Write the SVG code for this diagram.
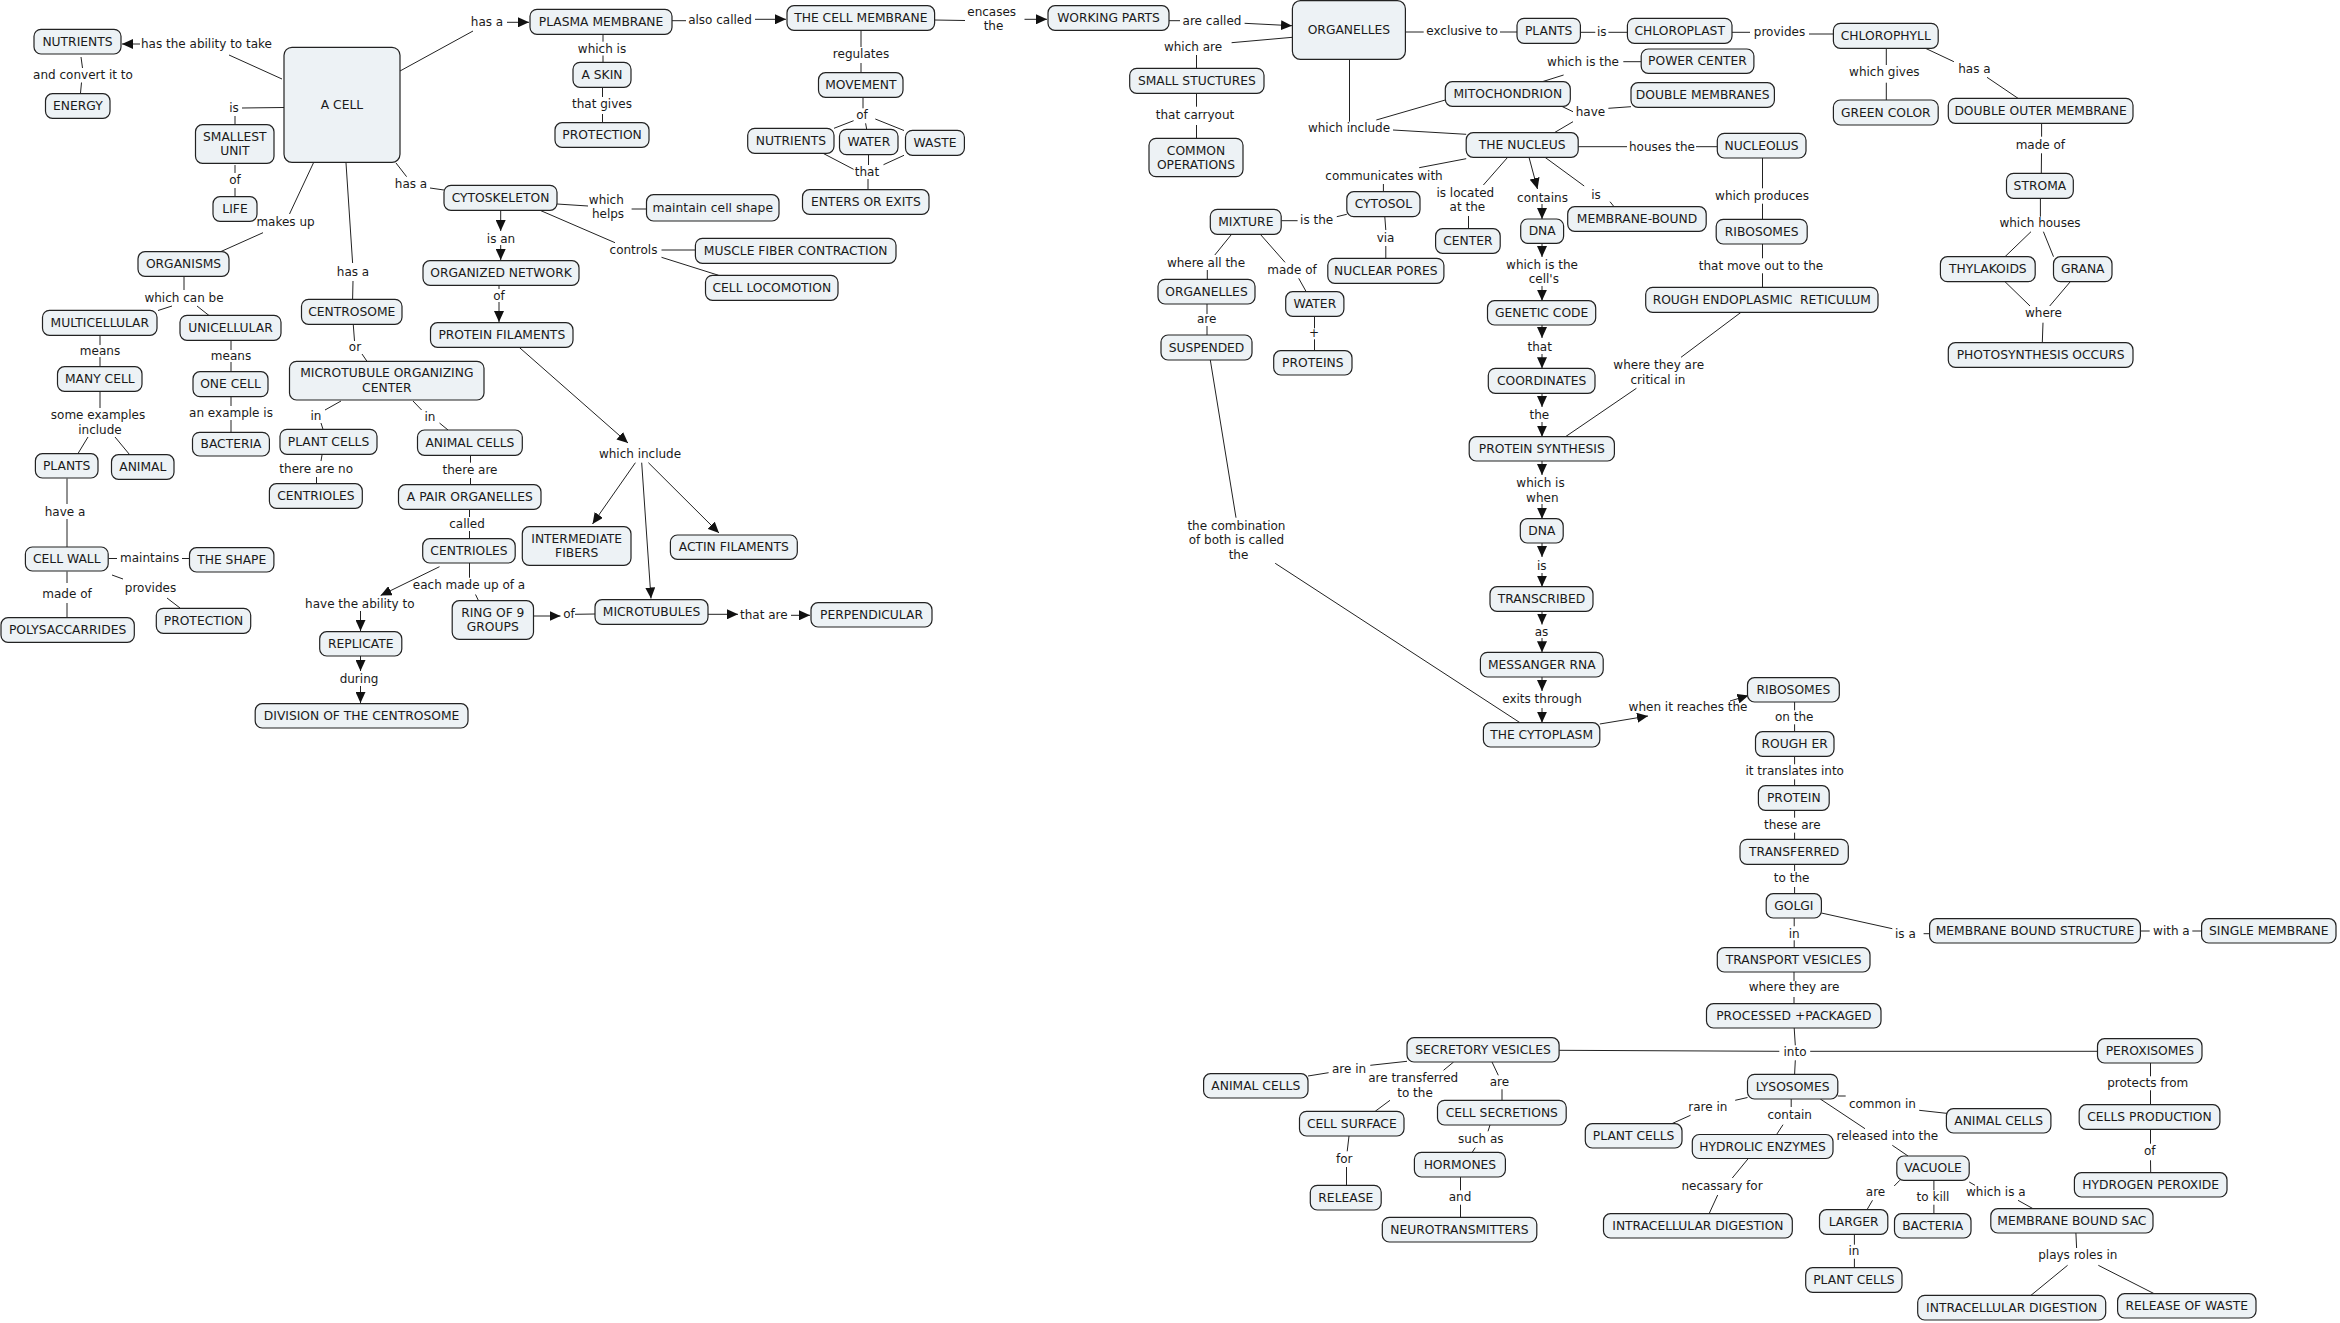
<svg xmlns="http://www.w3.org/2000/svg" width="2340" height="1323" viewBox="0 0 2340 1323">
<style>
.n rect{fill:#edf2f5;stroke:#222;stroke-width:1.2}
.n text,.l text{font-family:"DejaVu Sans",Verdana,sans-serif;text-anchor:middle;dominant-baseline:central;fill:#1a1a1a}
.n text{font-size:12.3px}
.l text{font-size:12px}
.c path{fill:none;stroke:#222;stroke-width:1}
.c .a{marker-end:url(#ah)}
</style>
<defs>
<marker id="ah" markerUnits="userSpaceOnUse" markerWidth="11" markerHeight="10" refX="11" refY="5" orient="auto">
<path d="M0,0 L11,5 L0,10 z" fill="#111"/>
</marker>
</defs>
<rect width="2340" height="1323" fill="#fff"/>
<g id="connectors" class="c">
<path d="M282,79 L229,55"/><path class="a" d="M140,44 L122,44"/>
<path d="M81,57 L82.5,68 M81.5,82.5 L80.5,93"/>
<path d="M284,107.5 L242,108 M235,116 L235,124.5"/>
<path d="M235,165 L235,173 M235,188 L235,196.5"/>
<path d="M313.4,163 L289.5,214 M263,232.7 L221,251.5"/>
<path d="M184,277 L184,290 M172,306 L158,310.5 M197,306 L209,315.5"/>
<path d="M100,336 L100,345 M100,357 L100,366.5"/>
<path d="M231,341 L231,350 M231,362 L231,371.5"/>
<path d="M100,392 L100,408 M88,437 L78,453.5 M115,437 L129.5,454.5"/>
<path d="M231,397 L231,406 M231,420 L231,432"/>
<path d="M67,478.5 L67,504 M67,519 L67,547"/>
<path d="M108.5,558.5 L117,558.5 M182,558.5 L189.5,558.5"/>
<path d="M67,571.5 L67,583 M67,603 L67,617.5"/>
<path d="M112,575 L123,579 M167,598 L180,608"/>
<path d="M346,163 L352.6,263 M353,281 L352.6,299.3"/>
<path d="M353.3,325 L354.5,341 M362,354 L367,361.3"/>
<path d="M341,401 L325,410 M321,423 L323,429.3"/>
<path d="M413,401 L421.6,410 M439.5,423 L448,430"/>
<path d="M322,455 L321,461 M316.5,477 L316.5,483.7"/>
<path d="M470.5,455.5 L470.5,462.7 M470.5,478 L470.5,484.7"/>
<path d="M469.5,509.5 L469.5,517 M469.5,531 L469.5,538.7"/>
<path d="M469.5,563 L469.5,577.7 M475.5,594.5 L478.5,600.7"/>
<path class="a" d="M439.5,566.7 L380.6,595.5"/>
<path class="a" d="M360.5,611 L360.5,631"/>
<path class="a" d="M360.5,656 L360.5,671"/>
<path class="a" d="M360.5,686 L360.5,703"/>
<path class="a" d="M533.5,616 L560.5,616"/><path d="M575,614.3 L595,614"/>
<path d="M396,163 L406.6,176.7 M430,188 L444,190"/>
<path class="a" d="M500.7,210.3 L500.7,231"/><path class="a" d="M500.7,245 L500.7,260"/>
<path d="M499,285.5 L499,289"/><path class="a" d="M499,302 L499,322"/>
<path class="a" d="M519.4,347.5 L628,443"/>
<path class="a" d="M635.4,462.7 L592.5,524"/>
<path class="a" d="M641.7,462.7 L651,598.5"/>
<path class="a" d="M648.4,462.7 L719,533"/>
<path class="a" d="M708,614.3 L738,614.3"/><path class="a" d="M791,615.3 L810,615.3"/>
<path d="M400,71 L473,31"/><path class="a" d="M507,22.3 L529,22.3"/>
<path d="M672,20.7 L686,20.7"/><path class="a" d="M755,19.3 L786,19.3"/>
<path d="M934.6,20 L965,20.5"/><path class="a" d="M1024.5,19.3 L1047,19.3"/>
<path d="M603,34.3 L603,41.7 M603,55.5 L603,62.3"/>
<path d="M602.5,87.3 L602.5,97 M602.5,114 L602.5,122.7"/>
<path d="M861,30.3 L861,47 M861,63 L861,72.7"/>
<path d="M863,97.3 L863,108.3 M853.6,120.7 L834,128.3 M865.6,123.3 L866.7,129.3 M875.3,119 L904,130.5"/>
<path d="M823,153.3 L853.6,169.3 M868.5,154.7 L868.5,165 M904,155.3 L883.5,164.7 M868,179 L868,189.7"/>
<path d="M557,204 L588,206 M631.6,209 L646.5,209"/>
<path d="M540,210.3 L615,242.7 M661.5,250 L695.4,250 M661.5,257.3 L718.6,275.3"/>
<path d="M1169,20.7 L1180,20.7"/><path class="a" d="M1244.6,23.3 L1292,25.7"/>
<path d="M1292.4,37.3 L1231.6,42.7 M1196.5,55 L1196.5,68.3"/>
<path d="M1196.5,93.3 L1196.5,106.7 M1196.5,125 L1196.5,138.3"/>
<path d="M1405.4,32 L1423.7,32 M1500,32 L1517,32"/>
<path d="M1580.4,32.3 L1595.3,32.3 M1608.4,32.3 L1627.4,32.3"/>
<path d="M1732,32.3 L1750,32.3 M1809,34 L1833.4,34"/>
<path d="M1886.3,48.3 L1886.3,65 M1886.3,82.7 L1886.3,100"/>
<path d="M1925.9,48.5 L1953.9,61.7 M1987,77.3 L2018,98.3"/>
<path d="M2041.6,123.3 L2041.6,136.7 M2041.5,153.3 L2041.3,173.3"/>
<path d="M2040.4,198.3 L2040.4,216.7 M2031,231.7 L2005,256.7 M2043.4,231.7 L2053.5,256.7"/>
<path d="M2005,281.7 L2030,306 M2070.3,281.7 L2049.7,306 M2043,322.7 L2042.3,342.7"/>
<path d="M1349.5,59.3 L1349.5,121.7 M1393,130 L1466.2,134.3 M1376.3,120 L1445.3,100"/>
<path d="M1542.3,81.7 L1563.6,75 M1623.3,61.7 L1641.2,61.7"/>
<path d="M1561.7,106.3 L1573,111.7 M1554.3,132.7 L1573,121.7 M1608.4,108.3 L1631,106.7"/>
<path d="M1578.2,146.7 L1627,146.7 M1696,146.7 L1717.3,146.7"/>
<path d="M1762.5,158 L1762.5,188.3 M1762.5,203.7 L1762.5,219.3"/>
<path d="M1762.5,244 L1762.5,258.3 M1762.5,273.3 L1762.5,287.3"/>
<path d="M1741,312.3 L1681,357.3 M1636.4,388.3 L1565.5,436.7"/>
<path d="M1466.2,158.7 L1419.2,167.7 M1383.4,184 L1383.4,191.7"/>
<path d="M1346.8,214.3 L1336.8,216.7 M1297.6,220.7 L1281.2,220.7"/>
<path d="M1384.8,216.7 L1385.8,230 M1385.8,246 L1385.8,258.3"/>
<path d="M1507.7,157.3 L1483.4,185 M1468.5,216 L1468.5,228.7"/>
<path class="a" d="M1529,157.3 L1537.5,189"/><path class="a" d="M1542,204 L1542,219"/>
<path d="M1545,157.3 L1584.2,186 M1610,201.7 L1614,206.7"/>
<path class="a" d="M1542,243.3 L1542,257"/><path class="a" d="M1542,286 L1542,300.7"/>
<path class="a" d="M1542,325 L1542,338"/><path class="a" d="M1542,354 L1542,368.3"/>
<path class="a" d="M1542,393.3 L1542,407"/><path class="a" d="M1542,422 L1542,436.7"/>
<path class="a" d="M1542,461 L1542,475"/><path class="a" d="M1542,504 L1542,518.7"/>
<path class="a" d="M1542,543 L1542,557"/><path class="a" d="M1542,573 L1542,586.7"/>
<path class="a" d="M1542,611.3 L1542,624.5"/><path class="a" d="M1542,638 L1542,652.3"/>
<path class="a" d="M1542,677 L1542,691"/><path class="a" d="M1542,708 L1542,722.7"/>
<path d="M1231.6,234.3 L1214.8,255 M1207.3,270 L1207.3,279.3"/>
<path d="M1260.3,234.3 L1285,262.3 M1298.7,278.3 L1306.2,291.7"/>
<path d="M1314.5,316.3 L1314.5,328.3 M1314.5,339.3 L1314.5,350.7"/>
<path d="M1207,304 L1207,314 M1207,326 L1207,335"/>
<path d="M1210.3,360 L1236,517.7 M1275.2,563.3 L1520,722.7"/>
<path class="a" d="M1599.8,724 L1648,716"/><path class="a" d="M1730,701 L1748.5,695.5"/>
<path d="M1794.6,702 L1794.6,710.3 M1794.6,724.3 L1794.6,731.7"/>
<path d="M1794.6,756.3 L1794.6,764.3 M1794.6,779.3 L1794.6,785.7"/>
<path d="M1794.6,810.3 L1794.6,817.7 M1794.6,832.7 L1794.6,839.3"/>
<path d="M1794.6,864.3 L1794.6,871 M1794.6,887 L1794.6,893.7"/>
<path d="M1821.4,913 L1892.3,928.7 M1923.6,933.7 L1929.6,933.7"/>
<path d="M2140.4,931 L2149.7,931 M2192.3,931 L2201.6,931"/>
<path d="M1794.2,918 L1794.2,926.3 M1794.2,940.3 L1794.2,947.7"/>
<path d="M1794,972 L1794,981 M1794,997 L1794,1003.7"/>
<path d="M1794.2,1028 L1795.3,1045.3 M1795.3,1060.3 L1794.6,1074.3 M1779.3,1051.3 L1559.1,1050.3 M1810.2,1051.3 L2097.5,1051.3"/>
<path d="M1407,1061.3 L1370.3,1065.3 M1328.6,1072.7 L1308,1076"/>
<path d="M1453.6,1062 L1443.5,1070.3 M1390,1100.3 L1375.2,1111.3"/>
<path d="M1492,1062 L1498.3,1075.3 M1502,1089.3 L1502,1100.3"/>
<path d="M1490,1125 L1488,1131.3 M1475.2,1147.7 L1472.2,1152.3"/>
<path d="M1460.5,1177 L1460.5,1190.3 M1460.5,1204.7 L1460.5,1217.3"/>
<path d="M1349,1136 L1347.2,1151.3 M1346.5,1167 L1346.5,1185.3"/>
<path d="M1747.5,1097.5 L1735.2,1100.3 M1690.5,1115.3 L1671.8,1123.7"/>
<path d="M1791.2,1099 L1791.2,1107 M1783,1124.7 L1776.6,1134.5"/>
<path d="M1748.3,1158.5 L1732.3,1178 M1717.7,1195 L1709.1,1213.7"/>
<path d="M1837.8,1096 L1845.7,1096 M1919.2,1110.3 L1946.4,1113.3"/>
<path d="M1820.3,1099 L1865,1128.7 M1892.3,1145.3 L1908,1156"/>
<path d="M1899.8,1180.3 L1894.2,1186 M1872.5,1200.3 L1867,1209.7"/>
<path d="M1933.9,1180.3 L1933.9,1190.3 M1933.9,1204.7 L1933.9,1213.7"/>
<path d="M1969.2,1182 L1975,1185.3 M2018,1200.3 L2033,1208.7"/>
<path d="M1854.4,1234.3 L1854.4,1244.7 M1854.4,1258.7 L1854.4,1267.7"/>
<path d="M2075.9,1233 L2076.6,1248 M2067.6,1265.3 L2031,1295.3 M2098.3,1265.3 L2154.2,1293.7"/>
<path d="M2150.5,1063 L2150.5,1076.3 M2150.5,1090.3 L2150.5,1104.7"/>
<path d="M2150.5,1129.3 L2150.5,1143.7 M2150.5,1160.3 L2150.7,1172.7"/>
</g>
<g id="link-labels" class="l">
<text x="206.5" y="44.3">has the ability to take</text>
<text x="83" y="75">and convert it to</text>
<text x="234" y="108.3">is</text>
<text x="235" y="180">of</text>
<text x="285.5" y="222">makes up</text>
<text x="184" y="297.7">which can be</text>
<text x="100" y="350.7">means</text>
<text x="231" y="355.7">means</text>
<text x="98" y="415">some examples</text><text x="100" y="429.7">include</text>
<text x="231" y="413.3">an example is</text>
<text x="65" y="512">have a</text>
<text x="149.7" y="557.7">maintains</text>
<text x="67" y="594">made of</text>
<text x="150.5" y="587.7">provides</text>
<text x="353" y="272">has a</text>
<text x="355" y="346.7">or</text>
<text x="316" y="415.7">in</text>
<text x="430" y="417.3">in</text>
<text x="316.2" y="469">there are no</text>
<text x="470" y="470">there are</text>
<text x="467" y="523.7">called</text>
<text x="469" y="585">each made up of a</text>
<text x="359.8" y="604">have the ability to</text>
<text x="359" y="679">during</text>
<text x="569" y="614.3">of</text>
<text x="411" y="184">has a</text>
<text x="501" y="238.7">is an</text>
<text x="499" y="295.7">of</text>
<text x="640" y="453.7">which include</text>
<text x="763.8" y="615">that are</text>
<text x="487" y="21.7">has a</text>
<text x="720" y="20">also called</text>
<text x="991.7" y="11.7">encases</text><text x="993.5" y="26">the</text>
<text x="602" y="48.5">which is</text>
<text x="602" y="104">that gives</text>
<text x="861" y="54">regulates</text>
<text x="862" y="115">of</text>
<text x="867" y="171.7">that</text>
<text x="606.3" y="200">which</text><text x="608" y="214.3">helps</text>
<text x="633.5" y="250">controls</text>
<text x="1212" y="20.7">are called</text>
<text x="1193" y="46.7">which are</text>
<text x="1195" y="115">that carryout</text>
<text x="1462" y="30.7">exclusive to</text>
<text x="1601.7" y="32.3">is</text>
<text x="1779.5" y="31.7">provides</text>
<text x="1884.3" y="71.7">which gives</text>
<text x="1974.4" y="69">has a</text>
<text x="2040.4" y="144.7">made of</text>
<text x="2040" y="222.7">which houses</text>
<text x="2043.4" y="313.3">where</text>
<text x="1349" y="127.7">which include</text>
<text x="1583" y="61.7">which is the</text>
<text x="1590.5" y="111.7">have</text>
<text x="1662" y="147.3">houses the</text>
<text x="1762" y="195.7">which produces</text>
<text x="1761" y="266">that move out to the</text>
<text x="1658.7" y="365">where they are</text><text x="1658" y="380">critical in</text>
<text x="1384" y="175.7">communicates with</text>
<text x="1316.6" y="220">is the</text>
<text x="1385.6" y="237.7">via</text>
<text x="1465.3" y="192.7">is located</text><text x="1467.4" y="207.3">at the</text>
<text x="1542.5" y="198">contains</text>
<text x="1596" y="195">is</text>
<text x="1542" y="265">which is the</text><text x="1543.8" y="279.3">cell's</text>
<text x="1539.7" y="346.7">that</text>
<text x="1539.4" y="415">the</text>
<text x="1540.5" y="483">which is</text><text x="1542.3" y="497.7">when</text>
<text x="1541.8" y="566">is</text>
<text x="1541.5" y="631.7">as</text>
<text x="1542" y="699">exits through</text>
<text x="1206" y="262.7">where all the</text>
<text x="1292" y="270">made of</text>
<text x="1314" y="332.7">+</text>
<text x="1206.6" y="319.3">are</text>
<text x="1236.4" y="526">the combination</text><text x="1236.4" y="540.3">of both is called</text><text x="1238.5" y="555">the</text>
<text x="1688" y="707">when it reaches the</text>
<text x="1794.2" y="717">on the</text>
<text x="1794.7" y="771">it translates into</text>
<text x="1792.3" y="825">these are</text>
<text x="1791.6" y="877.7">to the</text>
<text x="1905.4" y="933.7">is a</text>
<text x="2171.4" y="931">with a</text>
<text x="1794.2" y="933.7">in</text>
<text x="1794" y="987">where they are</text>
<text x="1795" y="1052">into</text>
<text x="2147.7" y="1083">protects from</text>
<text x="2149.7" y="1150.7">of</text>
<text x="1882.4" y="1103.7">common in</text>
<text x="1789.7" y="1115.3">contain</text>
<text x="1887.4" y="1136">released into the</text>
<text x="1875.5" y="1192">are</text>
<text x="1933" y="1197">to kill</text>
<text x="1995.8" y="1192">which is a</text>
<text x="1853.9" y="1251.3">in</text>
<text x="2077.8" y="1254.7">plays roles in</text>
<text x="1349" y="1068.7">are in</text>
<text x="1413.2" y="1078">are transferred</text><text x="1415" y="1092.7">to the</text>
<text x="1499.4" y="1082">are</text>
<text x="1480.8" y="1138.7">such as</text>
<text x="1460" y="1196.7">and</text>
<text x="1344.2" y="1158.7">for</text>
<text x="1707.8" y="1107">rare in</text>
<text x="1722" y="1186">necassary for</text>
</g>
<g id="nodes">
<g id="nutrients" class="n"><rect x="34" y="29.3" width="87" height="24.7" rx="7"/><text x="77.5" y="41.7">NUTRIENTS</text></g>
<g id="energy" class="n"><rect x="45.5" y="93.7" width="64.5" height="24.6" rx="7"/><text x="77.8" y="106">ENERGY</text></g>
<g id="a-cell" class="n"><rect x="284" y="47.3" width="116" height="115" rx="8"/><text x="342" y="105">A CELL</text></g>
<g id="smallest-unit" class="n"><rect x="195.5" y="124.7" width="78.5" height="38.6" rx="7"/><text x="234.8" y="136.7">SMALLEST</text><text x="234.8" y="151">UNIT</text></g>
<g id="life" class="n"><rect x="213" y="196.7" width="44" height="24.6" rx="7"/><text x="235" y="209">LIFE</text></g>
<g id="organisms" class="n"><rect x="138" y="251.7" width="91" height="24.6" rx="7"/><text x="183.5" y="264">ORGANISMS</text></g>
<g id="multicellular" class="n"><rect x="42.5" y="310.3" width="114.5" height="25" rx="7"/><text x="99.8" y="322.8">MULTICELLULAR</text></g>
<g id="unicellular" class="n"><rect x="180" y="315.3" width="101" height="25" rx="7"/><text x="230.5" y="327.8">UNICELLULAR</text></g>
<g id="many-cell" class="n"><rect x="57.5" y="366.7" width="84.5" height="24.6" rx="7"/><text x="99.8" y="379">MANY CELL</text></g>
<g id="one-cell" class="n"><rect x="193" y="371.7" width="75" height="25" rx="7"/><text x="230.5" y="384.2">ONE CELL</text></g>
<g id="bacteria-1" class="n"><rect x="192.5" y="432.3" width="76.9" height="23.7" rx="7"/><text x="231" y="444.2">BACTERIA</text></g>
<g id="plants-1" class="n"><rect x="35.4" y="453.7" width="62.6" height="24.3" rx="7"/><text x="66.7" y="465.8">PLANTS</text></g>
<g id="animal" class="n"><rect x="111.5" y="454.7" width="62.5" height="24.6" rx="7"/><text x="142.8" y="467">ANIMAL</text></g>
<g id="cell-wall" class="n"><rect x="25.4" y="547" width="82.8" height="24" rx="7"/><text x="66.8" y="559">CELL WALL</text></g>
<g id="the-shape" class="n"><rect x="189.5" y="547.7" width="84.4" height="24.3" rx="7"/><text x="231.7" y="559.8">THE SHAPE</text></g>
<g id="polysaccarrides" class="n"><rect x="1" y="617.7" width="133.3" height="24.6" rx="7"/><text x="67.6" y="630">POLYSACCARRIDES</text></g>
<g id="protection-1" class="n"><rect x="156.3" y="608.3" width="94.4" height="25" rx="7"/><text x="203.5" y="620.8">PROTECTION</text></g>
<g id="centrosome" class="n"><rect x="301.5" y="299.3" width="100.5" height="25" rx="7"/><text x="351.8" y="311.8">CENTROSOME</text></g>
<g id="mtoc" class="n"><rect x="289.5" y="361.3" width="194.5" height="38.7" rx="7"/><text x="386.8" y="373.3">MICROTUBULE ORGANIZING</text><text x="386.8" y="388.3">CENTER</text></g>
<g id="plant-cells-1" class="n"><rect x="280" y="429.3" width="97" height="25" rx="7"/><text x="328.5" y="441.8">PLANT CELLS</text></g>
<g id="animal-cells-1" class="n"><rect x="417.5" y="430" width="104.8" height="25.3" rx="7"/><text x="469.9" y="442.7">ANIMAL CELLS</text></g>
<g id="centrioles-1" class="n"><rect x="269.4" y="483.7" width="92.9" height="24.6" rx="7"/><text x="315.9" y="496">CENTRIOLES</text></g>
<g id="a-pair-organelles" class="n"><rect x="398.5" y="484.7" width="142.5" height="24.6" rx="7"/><text x="469.8" y="497">A PAIR ORGANELLES</text></g>
<g id="centrioles-2" class="n"><rect x="422.7" y="538.7" width="92.5" height="24.3" rx="7"/><text x="469" y="550.8">CENTRIOLES</text></g>
<g id="replicate" class="n"><rect x="319.7" y="631.7" width="82.1" height="24.3" rx="7"/><text x="360.8" y="643.8">REPLICATE</text></g>
<g id="division" class="n"><rect x="255.2" y="703.7" width="212.8" height="24.3" rx="7"/><text x="361.6" y="715.8">DIVISION OF THE CENTROSOME</text></g>
<g id="ring-of-9" class="n"><rect x="452.2" y="600.7" width="81.3" height="38.6" rx="7"/><text x="492.8" y="612.7">RING OF 9</text><text x="492.8" y="627">GROUPS</text></g>
<g id="cytoskeleton" class="n"><rect x="444" y="185.3" width="113" height="25" rx="7"/><text x="500.5" y="197.8">CYTOSKELETON</text></g>
<g id="organized-network" class="n"><rect x="423" y="260.7" width="156" height="24.6" rx="7"/><text x="501" y="273">ORGANIZED NETWORK</text></g>
<g id="protein-filaments" class="n"><rect x="430.5" y="322.7" width="142.5" height="24.6" rx="7"/><text x="501.8" y="335">PROTEIN FILAMENTS</text></g>
<g id="intermediate-fibers" class="n"><rect x="522.3" y="526.7" width="108.7" height="38.6" rx="7"/><text x="576.7" y="539">INTERMEDIATE</text><text x="576.7" y="553">FIBERS</text></g>
<g id="actin-filaments" class="n"><rect x="670.4" y="535" width="126.9" height="24.3" rx="7"/><text x="733.8" y="547.2">ACTIN FILAMENTS</text></g>
<g id="microtubules" class="n"><rect x="595" y="599.7" width="113" height="24.6" rx="7"/><text x="651.5" y="612">MICROTUBULES</text></g>
<g id="perpendicular" class="n"><rect x="811" y="602.7" width="121" height="24.3" rx="7"/><text x="871.5" y="614.8">PERPENDICULAR</text></g>
<g id="plasma-membrane" class="n"><rect x="530" y="9.3" width="142" height="25" rx="7"/><text x="601" y="21.8">PLASMA MEMBRANE</text></g>
<g id="a-skin" class="n"><rect x="573" y="62.3" width="58" height="25" rx="7"/><text x="602" y="74.8">A SKIN</text></g>
<g id="protection-2" class="n"><rect x="555" y="122.7" width="94" height="24.6" rx="7"/><text x="602" y="135">PROTECTION</text></g>
<g id="the-cell-membrane" class="n"><rect x="787" y="5.7" width="147.6" height="24.6" rx="7"/><text x="860.8" y="18">THE CELL MEMBRANE</text></g>
<g id="movement" class="n"><rect x="818.5" y="72.7" width="84.5" height="24.6" rx="7"/><text x="860.8" y="85">MOVEMENT</text></g>
<g id="nutrients-2" class="n"><rect x="747.7" y="128.3" width="86.3" height="25" rx="7"/><text x="790.9" y="140.8">NUTRIENTS</text></g>
<g id="water-1" class="n"><rect x="839.5" y="129.3" width="58.5" height="25.4" rx="7"/><text x="868.8" y="142">WATER</text></g>
<g id="waste" class="n"><rect x="905.5" y="130.3" width="58.9" height="25" rx="7"/><text x="935" y="142.8">WASTE</text></g>
<g id="enters-or-exits" class="n"><rect x="802.5" y="189.7" width="126.5" height="24.6" rx="7"/><text x="865.8" y="202">ENTERS OR EXITS</text></g>
<g id="maintain-cell-shape" class="n"><rect x="646.5" y="194.7" width="132.5" height="26.3" rx="7"/><text x="712.8" y="207.8">maintain cell shape</text></g>
<g id="muscle-fiber" class="n"><rect x="695.4" y="238.3" width="200.6" height="25" rx="7"/><text x="795.7" y="250.8">MUSCLE FIBER CONTRACTION</text></g>
<g id="cell-locomotion" class="n"><rect x="705.5" y="275.3" width="132.5" height="25" rx="7"/><text x="771.8" y="287.8">CELL LOCOMOTION</text></g>
<g id="working-parts" class="n"><rect x="1048" y="5.7" width="121" height="24.6" rx="7"/><text x="1108.5" y="18">WORKING PARTS</text></g>
<g id="organelles-1" class="n"><rect x="1292.4" y="0.7" width="113" height="58.6" rx="8"/><text x="1348.9" y="30">ORGANELLES</text></g>
<g id="small-stuctures" class="n"><rect x="1129.7" y="68.3" width="134.3" height="25" rx="7"/><text x="1196.9" y="80.8">SMALL STUCTURES</text></g>
<g id="common-operations" class="n"><rect x="1149" y="138.3" width="94" height="38.4" rx="7"/><text x="1196" y="150.7">COMMON</text><text x="1196" y="165">OPERATIONS</text></g>
<g id="plants-2" class="n"><rect x="1517" y="18.3" width="63.4" height="25" rx="7"/><text x="1548.7" y="30.8">PLANTS</text></g>
<g id="chloroplast" class="n"><rect x="1627.4" y="18.3" width="104.6" height="25" rx="7"/><text x="1679.7" y="30.8">CHLOROPLAST</text></g>
<g id="chlorophyll" class="n"><rect x="1833.4" y="23.3" width="104.8" height="25" rx="7"/><text x="1885.8" y="35.8">CHLOROPHYLL</text></g>
<g id="green-color" class="n"><rect x="1833.4" y="100" width="104.8" height="25" rx="7"/><text x="1885.8" y="112.5">GREEN COLOR</text></g>
<g id="double-outer-membrane" class="n"><rect x="1948.3" y="98.3" width="184.7" height="25" rx="7"/><text x="2040.6" y="110.8">DOUBLE OUTER MEMBRANE</text></g>
<g id="stroma" class="n"><rect x="2006.5" y="173.3" width="66.8" height="25" rx="7"/><text x="2039.9" y="185.8">STROMA</text></g>
<g id="thylakoids" class="n"><rect x="1940.4" y="256.7" width="94.8" height="25" rx="7"/><text x="1987.8" y="269.2">THYLAKOIDS</text></g>
<g id="grana" class="n"><rect x="2053.5" y="256.7" width="58.5" height="25" rx="7"/><text x="2082.7" y="269.2">GRANA</text></g>
<g id="photosynthesis-occurs" class="n"><rect x="1948.3" y="342.7" width="184.7" height="24.6" rx="7"/><text x="2040.6" y="355">PHOTOSYNTHESIS OCCURS</text></g>
<g id="power-center" class="n"><rect x="1641.2" y="49" width="112.7" height="24.3" rx="7"/><text x="1697.5" y="61.2">POWER CENTER</text></g>
<g id="mitochondrion" class="n"><rect x="1445.3" y="81.7" width="125" height="24.6" rx="7"/><text x="1507.8" y="94">MITOCHONDRION</text></g>
<g id="double-membranes" class="n"><rect x="1631" y="82.7" width="143.4" height="24.6" rx="7"/><text x="1702.7" y="95">DOUBLE MEMBRANES</text></g>
<g id="the-nucleus" class="n"><rect x="1466.2" y="132.7" width="112" height="24.6" rx="7"/><text x="1522.2" y="145">THE NUCLEUS</text></g>
<g id="nucleolus" class="n"><rect x="1717.3" y="133.3" width="88.7" height="24.7" rx="7"/><text x="1761.6" y="145.7">NUCLEOLUS</text></g>
<g id="ribosomes-1" class="n"><rect x="1716.2" y="219.3" width="91" height="24.7" rx="7"/><text x="1761.7" y="231.7">RIBOSOMES</text></g>
<g id="rough-endoplasmic" class="n"><rect x="1645.7" y="287.3" width="232.3" height="25" rx="7"/><text x="1761.8" y="299.8" style="white-space:pre">ROUGH ENDOPLASMIC  RETICULUM</text></g>
<g id="cytosol" class="n"><rect x="1346.8" y="191.7" width="73.2" height="25" rx="7"/><text x="1383.4" y="204.2">CYTOSOL</text></g>
<g id="mixture" class="n"><rect x="1210.3" y="209.3" width="70.9" height="25" rx="7"/><text x="1245.8" y="221.8">MIXTURE</text></g>
<g id="nuclear-pores" class="n"><rect x="1327.8" y="258.3" width="116.1" height="25" rx="7"/><text x="1385.8" y="270.8">NUCLEAR PORES</text></g>
<g id="center" class="n"><rect x="1435.6" y="228.7" width="64.6" height="24.6" rx="7"/><text x="1467.9" y="241">CENTER</text></g>
<g id="dna-1" class="n"><rect x="1520.7" y="219" width="42.9" height="24.3" rx="7"/><text x="1542.2" y="231.2">DNA</text></g>
<g id="membrane-bound" class="n"><rect x="1567.7" y="206.7" width="138.5" height="24.6" rx="7"/><text x="1637" y="219">MEMBRANE-BOUND</text></g>
<g id="genetic-code" class="n"><rect x="1487.5" y="300.7" width="108.2" height="24.3" rx="7"/><text x="1541.6" y="312.8">GENETIC CODE</text></g>
<g id="coordinates" class="n"><rect x="1488.3" y="368.3" width="106.7" height="25" rx="7"/><text x="1541.6" y="380.8">COORDINATES</text></g>
<g id="protein-synthesis" class="n"><rect x="1469.2" y="436.7" width="145.2" height="24.3" rx="7"/><text x="1541.8" y="448.8">PROTEIN SYNTHESIS</text></g>
<g id="water-2" class="n"><rect x="1285.7" y="291.7" width="58.2" height="24.6" rx="7"/><text x="1314.8" y="304">WATER</text></g>
<g id="proteins" class="n"><rect x="1273.7" y="350.7" width="78.3" height="24.3" rx="7"/><text x="1312.8" y="362.8">PROTEINS</text></g>
<g id="organelles-2" class="n"><rect x="1158" y="279.3" width="97" height="24.7" rx="7"/><text x="1206.5" y="291.7">ORGANELLES</text></g>
<g id="suspended" class="n"><rect x="1161" y="335" width="91" height="25" rx="7"/><text x="1206.5" y="347.5">SUSPENDED</text></g>
<g id="dna-2" class="n"><rect x="1520.3" y="518.7" width="42.9" height="24.3" rx="7"/><text x="1541.8" y="530.8">DNA</text></g>
<g id="transcribed" class="n"><rect x="1490" y="586.7" width="103" height="24.6" rx="7"/><text x="1541.5" y="599">TRANSCRIBED</text></g>
<g id="messanger-rna" class="n"><rect x="1480.4" y="652.3" width="122.8" height="24.7" rx="7"/><text x="1541.8" y="664.7">MESSANGER RNA</text></g>
<g id="the-cytoplasm" class="n"><rect x="1483.4" y="722.7" width="116.4" height="24.3" rx="7"/><text x="1541.6" y="734.8">THE CYTOPLASM</text></g>
<g id="ribosomes-2" class="n"><rect x="1747.5" y="677.7" width="91.8" height="24.3" rx="7"/><text x="1793.4" y="689.8">RIBOSOMES</text></g>
<g id="rough-er" class="n"><rect x="1755.5" y="731.7" width="78.5" height="24.6" rx="7"/><text x="1794.7" y="744">ROUGH ER</text></g>
<g id="protein" class="n"><rect x="1758.4" y="785.7" width="70.8" height="24.6" rx="7"/><text x="1793.8" y="798">PROTEIN</text></g>
<g id="transferred" class="n"><rect x="1740" y="839.3" width="108.3" height="25" rx="7"/><text x="1794.2" y="851.8">TRANSFERRED</text></g>
<g id="golgi" class="n"><rect x="1766.2" y="893.7" width="55.2" height="24.3" rx="7"/><text x="1793.8" y="905.8">GOLGI</text></g>
<g id="membrane-bound-structure" class="n"><rect x="1929.6" y="918.7" width="210.8" height="24.3" rx="7"/><text x="2035" y="930.8">MEMBRANE BOUND STRUCTURE</text></g>
<g id="single-membrane" class="n"><rect x="2201.6" y="918.7" width="134.4" height="24.3" rx="7"/><text x="2268.8" y="930.8">SINGLE MEMBRANE</text></g>
<g id="transport-vesicles" class="n"><rect x="1717.3" y="947.7" width="152.7" height="24.3" rx="7"/><text x="1793.6" y="959.8">TRANSPORT VESICLES</text></g>
<g id="processed-packaged" class="n"><rect x="1706.5" y="1003.7" width="174.5" height="24.3" rx="7"/><text x="1793.8" y="1015.8">PROCESSED +PACKAGED</text></g>
<g id="peroxisomes" class="n"><rect x="2097.5" y="1038.7" width="104.5" height="24.3" rx="7"/><text x="2149.8" y="1050.8">PEROXISOMES</text></g>
<g id="cells-production" class="n"><rect x="2079.2" y="1104.7" width="140.7" height="24.6" rx="7"/><text x="2149.5" y="1117">CELLS PRODUCTION</text></g>
<g id="hydrogen-peroxide" class="n"><rect x="2074.4" y="1172.7" width="152.6" height="24.3" rx="7"/><text x="2150.7" y="1184.8">HYDROGEN PEROXIDE</text></g>
<g id="lysosomes" class="n"><rect x="1747.5" y="1074.3" width="90.3" height="24.7" rx="7"/><text x="1792.6" y="1086.7">LYSOSOMES</text></g>
<g id="animal-cells-3" class="n"><rect x="1946.4" y="1108.7" width="104.5" height="24.3" rx="7"/><text x="1998.7" y="1120.8">ANIMAL CELLS</text></g>
<g id="hydrolic-enzymes" class="n"><rect x="1692.3" y="1134.5" width="140.7" height="24" rx="7"/><text x="1762.6" y="1146.5">HYDROLIC ENZYMES</text></g>
<g id="vacuole" class="n"><rect x="1896.8" y="1156" width="72.4" height="24.3" rx="7"/><text x="1933" y="1168.2">VACUOLE</text></g>
<g id="larger" class="n"><rect x="1819.5" y="1209.7" width="68.3" height="24.6" rx="7"/><text x="1853.6" y="1222">LARGER</text></g>
<g id="bacteria-2" class="n"><rect x="1894.5" y="1213.7" width="76.5" height="24.3" rx="7"/><text x="1932.7" y="1225.8">BACTERIA</text></g>
<g id="membrane-bound-sac" class="n"><rect x="1990.8" y="1208.7" width="162.2" height="24.3" rx="7"/><text x="2071.9" y="1220.8">MEMBRANE BOUND SAC</text></g>
<g id="plant-cells-3" class="n"><rect x="1805.7" y="1267.7" width="96.3" height="24.6" rx="7"/><text x="1853.9" y="1280">PLANT CELLS</text></g>
<g id="intracellular-digestion-2" class="n"><rect x="1917.7" y="1295.3" width="188" height="24.7" rx="7"/><text x="2011.7" y="1307.7">INTRACELLULAR DIGESTION</text></g>
<g id="release-of-waste" class="n"><rect x="2117.6" y="1293.7" width="138.4" height="24.3" rx="7"/><text x="2186.8" y="1305.8">RELEASE OF WASTE</text></g>
<g id="secretory-vesicles" class="n"><rect x="1407" y="1037.7" width="152.1" height="24.3" rx="7"/><text x="1483" y="1049.8">SECRETORY VESICLES</text></g>
<g id="animal-cells-2" class="n"><rect x="1203.6" y="1073.7" width="104.4" height="24.3" rx="7"/><text x="1255.8" y="1085.8">ANIMAL CELLS</text></g>
<g id="cell-surface" class="n"><rect x="1299.5" y="1111.3" width="104.5" height="24.7" rx="7"/><text x="1351.8" y="1123.7">CELL SURFACE</text></g>
<g id="cell-secretions" class="n"><rect x="1437.5" y="1100.3" width="128.7" height="24.7" rx="7"/><text x="1501.8" y="1112.7">CELL SECRETIONS</text></g>
<g id="hormones" class="n"><rect x="1414.4" y="1152.3" width="91" height="24.7" rx="7"/><text x="1459.9" y="1164.7">HORMONES</text></g>
<g id="neurotransmitters" class="n"><rect x="1382.3" y="1217.3" width="154.5" height="24.7" rx="7"/><text x="1459.5" y="1229.7">NEUROTRANSMITTERS</text></g>
<g id="release" class="n"><rect x="1310.3" y="1185.3" width="70.9" height="24.7" rx="7"/><text x="1345.8" y="1197.7">RELEASE</text></g>
<g id="plant-cells-2" class="n"><rect x="1585.3" y="1123.7" width="96.7" height="24.3" rx="7"/><text x="1633.6" y="1135.8">PLANT CELLS</text></g>
<g id="intracellular-digestion-1" class="n"><rect x="1603.5" y="1213.7" width="188.8" height="24.3" rx="7"/><text x="1697.9" y="1225.8">INTRACELLULAR DIGESTION</text></g>
</g>
</svg>
